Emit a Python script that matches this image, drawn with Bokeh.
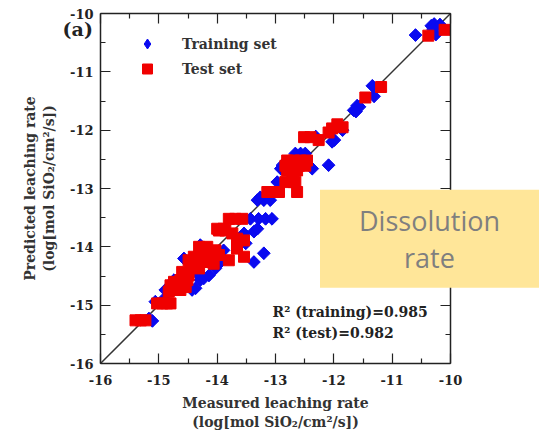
from bokeh.plotting import figure
from bokeh.models import (Range1d, LinearAxis, FixedTicker, Legend, LegendItem, Label,
                          CustomLabelingPolicy)
from bokeh.embed import file_html
from bokeh.resources import INLINE
import numpy as np

# ---- data (measured, predicted) ----
train_x = [-10.60, -10.33, -10.28, -10.18, -10.25, -10.30,
           -11.34, -11.31, -11.60, -11.56, -11.66, -11.62,
           -11.85, -12.03, -11.99, -12.09, -12.31,
           -12.66, -12.57, -12.49, -12.37, -12.91, -12.97, -12.88,
           -13.31, -13.20, -13.09, -13.26,
           -13.43, -13.29, -13.17, -13.06,
           -13.37, -13.31, -13.54, -13.51,
           -13.37, -13.20,
           -14.57, -14.29, -13.89, -13.94, -14.03,
           -14.37, -14.29, -14.37, -14.43,
           -14.74, -14.89, -14.77,
           -14.23, -14.14,
           -15.06, -14.91,
           -15.11, -15.17]
train_y = [-10.37, -10.21, -10.18, -10.19, -10.36, -10.27,
           -11.24, -11.42, -11.58, -11.60, -11.66, -11.68,
           -12.00, -12.20, -12.17, -12.60, -12.11,
           -12.40, -12.40, -12.40, -12.66, -12.66, -12.89, -12.60,
           -13.20, -13.20, -13.20, -13.15,
           -13.52, -13.52, -13.52, -13.52,
           -13.74, -13.69, -13.77, -13.94,
           -14.26, -14.11,
           -14.20, -13.97, -14.06, -14.26, -14.37,
           -14.43, -14.57, -14.71, -14.74,
           -14.57, -14.74, -14.74,
           -14.54, -14.49,
           -14.94, -14.89,
           -15.27, -15.23]

test_x = [-10.38, -10.10,
          -11.19, -11.46,
          -11.94, -12.03, -12.09, -11.85,
          -12.51, -12.40, -12.26,
          -12.80, -12.69, -12.57, -12.46, -12.83, -12.71, -12.60, -12.49, -12.80, -12.63,
          -12.83, -12.69, -12.66,
          -12.63,
          -13.14, -13.06, -12.94,
          -13.80, -13.69, -13.57,
          -14.00, -13.89,
          -13.97, -13.86, -13.74,
          -13.66, -13.54,
          -13.66,
          -13.80, -13.54,
          -14.31, -14.17, -14.03, -14.40, -14.26, -14.11, -13.97, -14.49, -14.34, -14.20, -14.06, -14.46, -14.31,
          -14.60, -14.49, -14.63, -14.51, -14.66, -14.54,
          -14.80, -14.74, -14.80, -14.63, -14.83,
          -15.03, -14.94, -14.86, -14.80,
          -15.40, -15.31, -15.23]
test_y = [-10.38, -10.28,
          -11.26, -11.44,
          -11.90, -11.97, -12.04, -11.95,
          -12.12, -12.12, -12.17,
          -12.52, -12.52, -12.52, -12.52, -12.61, -12.61, -12.61, -12.61, -12.69, -12.69,
          -12.89, -12.89, -12.89,
          -13.06,
          -13.06, -13.06, -13.06,
          -13.52, -13.52, -13.52,
          -13.69, -13.69,
          -13.72, -13.72, -13.77,
          -13.86, -13.89,
          -14.03,
          -14.23, -14.17,
          -14.00, -14.00, -14.06, -14.17, -14.14, -14.11, -14.14, -14.23, -14.26, -14.26, -14.29, -14.34, -14.37,
          -14.43, -14.49, -14.57, -14.57, -14.66, -14.69,
          -14.66, -14.60, -14.74, -14.74, -14.77,
          -14.97, -14.97, -14.97, -14.97,
          -15.26, -15.26, -15.26]

diag = [-16, -10]
major_ticks = [-16, -15, -14, -13, -12, -11, -10]
minor_ticks = [-15.5, -14.5, -13.5, -12.5, -11.5, -10.5]
lo, hi = -16, -10

SERIF = "DejaVu Serif"
W, H = 545, 436
PX = 350 / 6.0                      # pixels per unit
LEFT, RIGHT, TOP, BOTTOM = 100, 95, 13, 73   # frame placement inside the canvas

x_range = Range1d(lo - LEFT / PX, hi + RIGHT / PX)
y_range = Range1d(lo - BOTTOM / PX, hi + TOP / PX)

p = figure(width=W, height=H, output_backend="svg", toolbar_location=None,
           x_range=x_range, y_range=y_range,
           x_axis_location=None, y_axis_location=None,
           min_border=0, min_border_left=0, min_border_right=0,
           min_border_top=0, min_border_bottom=0)
p.background_fill_color = "white"
p.border_fill_color = "white"
p.grid.visible = False
p.outline_line_color = None

ticker = FixedTicker(ticks=major_ticks, minor_ticks=minor_ticks)
overrides = {t: str(t) for t in major_ticks}
no_labels = CustomLabelingPolicy(code="for (const i of [...indices]) { indices.unset(i) } return indices")

def make_axis(loc, show_labels, title=None):
    ax = LinearAxis(fixed_location=loc, bounds=(lo, hi), ticker=ticker)
    ax.axis_line_color = "#222222"
    ax.axis_line_width = 1.5
    ax.major_tick_in = 10
    ax.major_tick_out = 0
    ax.minor_tick_in = 5
    ax.minor_tick_out = 0
    ax.major_tick_line_color = "#222222"
    ax.minor_tick_line_color = "#222222"
    ax.major_tick_line_width = 1.2
    ax.minor_tick_line_width = 1.2
    ax.major_label_overrides = overrides
    ax.major_label_text_font = SERIF
    ax.major_label_text_font_style = "bold"
    ax.major_label_text_font_size = "13px"
    ax.major_label_text_color = "#222222"
    if not show_labels:
        ax.major_label_policy = no_labels
    if title is not None:
        ax.axis_label = title
    ax.axis_label_text_font = SERIF
    ax.axis_label_text_font_style = "bold"
    ax.axis_label_text_font_size = "14px"
    ax.axis_label_text_color = "#333333"
    return ax

xtitle = "Measured leaching rate\n(log[mol SiO\u2082/cm\u00b2/s])"
ytitle = "Predicted leaching rate\n(log[mol SiO\u2082/cm\u00b2/s])"

bottom = make_axis(lo, True, xtitle)
bottom.major_label_standoff = 11
bottom.axis_label_standoff = 7
left = make_axis(lo, True, ytitle)
left.major_label_standoff = 7
left.axis_label_standoff = 10
top = make_axis(hi, False)
top.major_label_standoff = 0
right = make_axis(hi, False)
right.major_label_standoff = 0

p.add_layout(bottom, "below")
p.add_layout(left, "left")
p.add_layout(top, "above")
p.add_layout(right, "right")

p.line(diag, diag, line_color="#333333", line_width=1.5)

# training set: diamond key glyph, overlaid by a rotated square of matching width
r_train_key = p.scatter(train_x, train_y, marker="diamond", size=12,
                        fill_color="#0a0af0", line_color="#0a0af0")
r_train = p.scatter(train_x, train_y, marker="square", angle=np.pi / 4, size=9,
                    fill_color="#0a0af0", line_color="#0a0af0")
r_test = p.scatter(test_x, test_y, marker="square", size=11,
                   fill_color="#f00000", line_color="#f00000")

legend = Legend(items=[LegendItem(label="Training set", renderers=[r_train_key]),
                       LegendItem(label="Test set", renderers=[r_test])],
                location=(LEFT + 33, H - 31 - 50), orientation="vertical",
                label_text_font=SERIF, label_text_font_style="bold",
                label_text_font_size="14px", label_text_color="#333333",
                glyph_width=28, glyph_height=25, label_height=25,
                label_standoff=21, spacing=0, padding=0, margin=0,
                background_fill_alpha=0, border_line_alpha=0)
p.add_layout(legend)

p.add_layout(Label(x=-16.39, y=-10.27, text="(a)", text_font=SERIF,
                   text_font_style="bold", text_font_size="19px", text_color="#222222",
                   text_align="center", text_baseline="middle"))

p.add_layout(Label(x=-13.05, y=-15.11, text="R\u00b2 (training)=0.985", text_font=SERIF,
                   text_font_style="bold", text_font_size="14px", text_color="#222222",
                   text_align="left", text_baseline="middle"))
p.add_layout(Label(x=-13.05, y=-15.48, text="R\u00b2 (test)=0.982", text_font=SERIF,
                   text_font_style="bold", text_font_size="14px", text_color="#222222",
                   text_align="left", text_baseline="middle"))

p.add_layout(Label(x=-10.36, y=-13.86, text="Dissolution\nrate", text_font="Open Sans",
                   text_font_size="27px", text_color="#7f7f7f", text_line_height=1.0,
                   text_align="center", text_baseline="middle",
                   background_fill_color="#ffe699", padding=(39, 12)))

open("out.html", "w").write(file_html(p, INLINE))
